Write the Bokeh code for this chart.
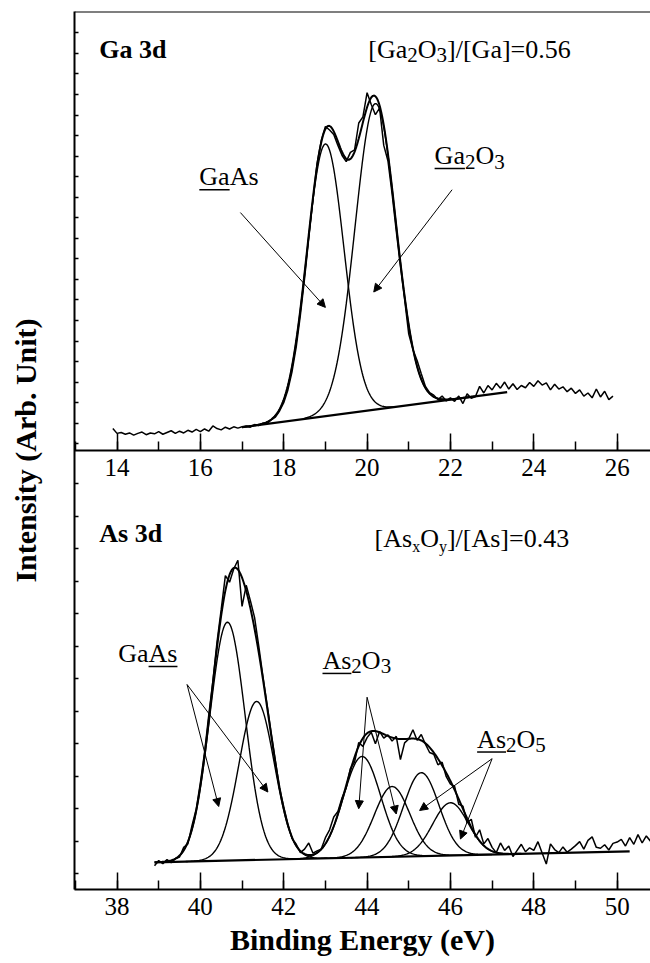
import numpy as np
from bokeh.plotting import figure
from bokeh.models import (Range1d, LinearAxis, FixedTicker, SingleIntervalTicker,
                          Arrow, NormalHead, CustomJSTickFormatter)
from bokeh.core.properties import value
from bokeh.embed import file_html
from bokeh.resources import INLINE

SERIF = "Liberation Serif"

# ---------------- data : Ga 3d (upper panel) ----------------
GA_E_FIRST, GA_E_STEP = 13.9, 0.1
GA_RAW = [5.0, 3.9, 4.1, 3.7, 4.0, 3.5, 3.9, 4.2, 3.6, 4.0, 3.8, 4.3, 3.7, 4.1, 4.5, 3.9, 4.4, 4.0, 4.6, 4.2, 4.8, 4.3,
          4.9, 4.4, 5.6, 5.0, 4.7, 5.3, 4.9, 5.4, 5.1, 5.4,
          5.6, 5.3, 5.9, 5.7, 6.2, 6.1, 7.0, 7.6, 9.0,
          10.9, 13.8, 18.0, 23.6, 30.9, 39.2, 48.3, 57.0, 65.4, 70.6,
          73.8, 73.0, 72.0, 69.5, 67.2, 65.8, 67.9, 68.5, 74.6, 76.0,
          81.5, 78.8, 76.5, 78.0, 69.5, 66.0, 58.5, 50.0, 42.0, 34.5,
          26.5, 23.0, 20.5, 17.5, 14.6, 13.2, 12.6, 11.6, 12.4, 11.3,
          12.0, 11.2, 12.4, 10.7, 12.9, 11.9, 12.3, 14.6, 13.1, 14.8,
          13.8, 15.3, 14.2, 15.6, 14.0, 15.2, 13.9, 14.8, 14.3, 15.5,
          14.6, 15.9, 14.9, 15.4, 13.8, 15.1, 14.0, 14.5, 13.4, 14.2,
          13.0, 13.8, 12.4, 13.1, 12.0, 14.0, 12.2, 13.5, 11.6, 12.4]
GA_PEAK_NAMES = ["GaAs", "Ga2O3"]
GA_CENTERS = [19.0, 20.2]
GA_HEIGHTS = [62.0, 69.7]
GA_FWHM = [1.05, 1.15]
GA_BG_E = [17.0, 23.36]
GA_BG_I = [5.3, 13.3]

# ---------------- data : As 3d (lower panel) ----------------
AS_E_FIRST, AS_E_STEP = 38.9, 0.1
AS_RAW = [5.4, 6.6, 5.9, 6.8, 6.1, 7.0, 7.4, 9.6, 10.4, 14.6, 18.3,
          24.3, 31.2, 39.6, 47.5, 56.4, 63.8, 71.5, 70.0, 73.0, 75.0,
          64.5, 69.3, 65.8, 62.0, 55.5, 48.6, 42.2, 35.6, 29.3, 23.0,
          18.8, 14.9, 11.6, 10.3, 8.4, 9.2, 10.6, 8.3, 8.8, 9.2,
          11.8, 13.6, 16.5, 17.8, 20.9, 23.2, 27.6, 29.0, 33.5, 32.6,
          34.6, 35.8, 33.2, 36.0, 34.5, 35.2, 33.8, 34.9, 29.6, 33.4,
          34.3, 36.4, 34.0, 35.3, 33.1, 31.2, 30.8, 28.4, 29.0, 25.7,
          24.0, 23.5, 19.4, 19.0, 15.2, 16.0, 11.9, 13.6, 10.4, 11.6,
          9.6, 8.4, 10.6, 8.9, 9.9, 7.5, 8.9, 10.3, 8.6, 9.5,
          8.9, 10.9, 8.3, 5.8, 10.4, 9.1, 8.4, 9.7, 8.5, 9.2,
          10.0, 10.9, 9.2, 11.2, 12.0, 9.6, 9.4, 10.2, 9.0, 10.5,
          10.8, 11.4, 9.9, 11.8, 10.3, 12.5, 10.6, 12.2, 11.0]
AS_PEAK_NAMES = ["GaAs 5/2", "GaAs 3/2", "As2O3 a", "As2O3 b", "As2O5 a", "As2O5 b"]
AS_CENTERS = [40.65, 41.35, 43.88, 44.60, 45.30, 46.00]
AS_HEIGHTS = [54.3, 36.1, 23.0, 16.0, 19.0, 12.0]
AS_FWHM = [1.0, 1.0, 1.05, 1.0, 1.0, 1.0]
AS_BG_E = [38.9, 50.3]
AS_BG_I = [6.2, 8.7]

# ---------------- geometry ----------------
W, H = 650, 963
B_LEFT, B_TOP, B_BOTTOM = 74, 11, 74
FRAME_W = W - B_LEFT
FRAME_H = H - B_TOP - B_BOTTOM
GA_XRANGE = (12.98, 26.80)
AS_XRANGE = (36.98, 50.80)
PX_PER_EV = FRAME_W / (GA_XRANGE[1] - GA_XRANGE[0])
PX_PER_UNIT = FRAME_H / 200.0
TEXT_LIFT = 10.0  # px correction so that the glyph baseline sits on the anchor

p = figure(width=W, height=H, output_backend="svg", toolbar_location=None,
           x_range=Range1d(*AS_XRANGE), y_range=Range1d(0, 200),
           x_axis_type=None, y_axis_type=None,
           min_border_left=B_LEFT, min_border_right=0,
           min_border_top=B_TOP, min_border_bottom=B_BOTTOM)
p.extra_x_ranges = {"ga": Range1d(*GA_XRANGE)}
p.extra_y_ranges = {"ga": Range1d(-100, 100)}
p.outline_line_color = None
p.background_fill_color = "white"
p.border_fill_color = "white"


def style_x(ax):
    ax.ticker = SingleIntervalTicker(interval=2, num_minor_ticks=2)
    ax.major_tick_in = 17
    ax.major_tick_out = 0
    ax.minor_tick_in = 9
    ax.minor_tick_out = 0
    ax.axis_line_width = 2
    ax.axis_line_color = "black"
    ax.major_tick_line_width = 1.5
    ax.minor_tick_line_width = 1.5
    ax.major_tick_line_color = "black"
    ax.minor_tick_line_color = "black"
    ax.major_label_text_font = SERIF
    ax.major_label_text_font_size = "25px"
    ax.major_label_text_color = "black"
    ax.major_label_standoff = 8


bottom_axis = LinearAxis(axis_label="Binding Energy (eV)")
style_x(bottom_axis)
bottom_axis.axis_label_text_font = SERIF
bottom_axis.axis_label_text_font_size = "30px"
bottom_axis.axis_label_text_font_style = "bold"
bottom_axis.axis_label_text_color = "black"
bottom_axis.axis_label_standoff = 5
p.add_layout(bottom_axis, "below")

mid_axis = LinearAxis(x_range_name="ga", fixed_location=100)
style_x(mid_axis)
p.add_layout(mid_axis, "below")

top_border = LinearAxis(fixed_location=200, ticker=FixedTicker(ticks=[]),
                        major_tick_in=0, major_tick_out=0, minor_tick_in=0, minor_tick_out=0,
                        axis_line_width=2, axis_line_color="black")
p.add_layout(top_border, "above")

# y ticks (no labels): upper panel every 4.68 units, lower panel every 7.40 units
yt_ga = [100 + 1.53 + 4.68 * k for k in range(21)]
yt_as = [3.58 + 7.40 * k for k in range(13)]
left_axis = LinearAxis(ticker=FixedTicker(ticks=yt_as + yt_ga),
                       formatter=CustomJSTickFormatter(code="return ''"),
                       axis_label="Intensity (Arb. Unit)",
                       major_tick_in=4, major_tick_out=0, minor_tick_in=0, minor_tick_out=0,
                       major_tick_line_width=1.5, major_tick_line_color="black",
                       major_label_standoff=0,
                       axis_line_width=2, axis_line_color="black",
                       axis_label_standoff=33, axis_label_text_font=SERIF,
                       axis_label_text_font_size="30px", axis_label_text_font_style="bold",
                       axis_label_text_color="black")
p.add_layout(left_axis, "left")


def gauss(e, c, h, fw):
    s = fw / 2.3548
    return h * np.exp(-0.5 * ((e - c) / s) ** 2)


def draw_panel(e_first, e_step, raw, centers, heights, fwhm, bg_e, bg_i, env_end, rng):
    kw = dict(x_range_name=rng[0], y_range_name=rng[1])
    e_raw = e_first + e_step * np.arange(len(raw))
    p.line(e_raw, raw, line_color="black", line_width=1.5, **kw)
    # background
    p.line(bg_e, bg_i, line_color="black", line_width=2.2, **kw)
    # components
    for c, h, fw in zip(centers, heights, fwhm):
        lo = max(bg_e[0], c - 1.7)
        e = np.arange(lo, c + 1.7, 0.02)
        p.line(e, gauss(e, c, h, fw) + np.interp(e, bg_e, bg_i),
               line_color="black", line_width=1.4, **kw)
    # envelope
    e = np.arange(bg_e[0], env_end, 0.02)
    env = np.interp(e, bg_e, bg_i)
    for c, h, fw in zip(centers, heights, fwhm):
        env = env + gauss(e, c, h, fw)
    p.line(e, env, line_color="black", line_width=2.0, **kw)


draw_panel(GA_E_FIRST, GA_E_STEP, GA_RAW, GA_CENTERS, GA_HEIGHTS, GA_FWHM,
           GA_BG_E, GA_BG_I, 22.6, ("ga", "ga"))
draw_panel(AS_E_FIRST, AS_E_STEP, AS_RAW, AS_CENTERS, AS_HEIGHTS, AS_FWHM,
           AS_BG_E, AS_BG_I, 47.7, ("default", "default"))

# ---------------- annotations ----------------
W_EM = {'[': .333, ']': .333, '/': .278, '=': .564, '.': .25, 'G': .722, 'a': .444,
        'A': .722, 's': .389, 'O': .722, 'x': .5, 'y': .5, ' ': .25, '3': .5, 'd': .556}


def text_width(s, size):
    return sum(W_EM.get(ch, 0.5) for ch in s) * size


def rich_text(x, y, segs, rng, bold=False):
    kw = dict(x_range_name=rng[0], y_range_name=rng[1])
    off = 0.0
    for txt, size, drop, under in segs:
        yy = y + (TEXT_LIFT - drop) / PX_PER_UNIT
        p.text(x=[x], y=[yy], text=[txt], x_offset=off,
               text_font=value(SERIF), text_font_size=f"{size}px",
               text_font_style="bold" if bold else "normal",
               text_align="left", text_baseline="alphabetic", text_color="black", **kw)
        w = text_width(txt, size)
        if under:
            yu = y - 3.0 / PX_PER_UNIT
            p.segment(x0=[x + off / PX_PER_EV], y0=[yu], x1=[x + (off + w) / PX_PER_EV], y1=[yu],
                      line_color="black", line_width=1.5, **kw)
        off += w


GA = ("ga", "ga")
AS = ("default", "default")
M, S, D = 26, 21, 6  # main size, subscript size, subscript drop

rich_text(13.575, 89.1, [("Ga 3d", 26, 0, False)], GA, bold=True)
rich_text(20.03, 89.1, [("[Ga", M, 0, False), ("2", S, D, False), ("O", M, 0, False),
                        ("3", S, D, False), ("]/[Ga]=0.56", M, 0, False)], GA)
rich_text(15.975, 60.1, [("Ga", M, 0, True), ("As", M, 0, False)], GA)
rich_text(21.62, 64.9, [("Ga", M, 0, True), ("2", S, D, False), ("O", M, 0, False),
                        ("3", S, D, False)], GA)

rich_text(37.575, 78.8, [("As 3d", 26, 0, False)], AS, bold=True)
rich_text(44.18, 77.6, [("[As", M, 0, False), ("x", 16, 8, False), ("O", M, 0, False),
                        ("y", 16, 8, False), ("]/[As]=0.43", M, 0, False)], AS)
rich_text(38.03, 51.5, [("Ga", M, 0, False), ("As", M, 0, True)], AS)
rich_text(42.93, 49.9, [("As", M, 0, True), ("2", S, D, False), ("O", M, 0, False),
                        ("3", S, D, False)], AS)
rich_text(46.64, 32.0, [("As", M, 0, True), ("2", S, D, False), ("O", M, 0, False),
                        ("5", S, D, False)], AS)

ARROWS = [
    (GA, 16.96, 54.2, 19.0, 32.6),
    (GA, 22.04, 59.4, 20.16, 36.1),
    (AS, 39.68, 46.7, 40.44, 18.9),
    (AS, 39.68, 46.7, 41.62, 22.2),
    (AS, 44.0, 43.8, 43.80, 18.4),
    (AS, 44.0, 43.8, 44.70, 17.2),
    (AS, 47.0, 29.8, 45.26, 18.0),
    (AS, 47.0, 29.8, 46.24, 11.5),
]
for rng, xs, ys, xe, ye in ARROWS:
    p.add_layout(Arrow(end=NormalHead(size=8, fill_color="black", line_color="black", line_width=1),
                       x_start=xs, y_start=ys, x_end=xe, y_end=ye,
                       x_range_name=rng[0], y_range_name=rng[1],
                       line_color="black", line_width=1))

open("out.html", "w").write(file_html(p, INLINE))
